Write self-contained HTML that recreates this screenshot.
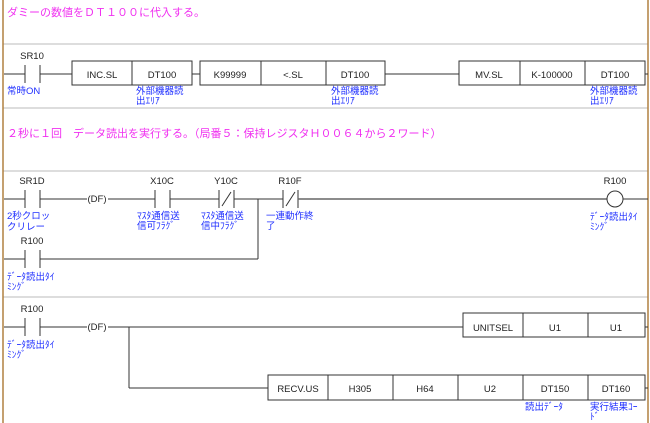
<!DOCTYPE html>
<html><head><meta charset="utf-8"><style>
html,body{margin:0;padding:0;background:#fff;width:650px;height:423px;overflow:hidden}
svg text{font-family:"Liberation Sans","Noto Sans CJK JP",sans-serif}
.m{fill:#f030f0;font-size:11px}
.b{fill:#2030ff;font-size:9.5px}
.k{fill:#222;font-size:9.5px}
</style></head><body>
<svg width="650" height="423" viewBox="0 0 650 423" xmlns="http://www.w3.org/2000/svg">
<rect x="0" y="0" width="650" height="423" fill="#fff"/>
<g stroke="#ddd" stroke-width="2">
<line x1="3" y1="44" x2="648" y2="44"/>
<line x1="3" y1="108" x2="648" y2="108"/>
<line x1="3" y1="171" x2="648" y2="171"/>
<line x1="3" y1="297" x2="648" y2="297"/>
</g>
<line x1="3" y1="0" x2="3" y2="423" stroke="#b08040" stroke-width="1.5"/>
<line x1="648" y1="0" x2="648" y2="423" stroke="#b08040" stroke-width="1.5"/>

<text class="m" x="7" y="16">ダミーの数値をＤＴ１００に代入する。</text>
<text class="m" x="7" y="137">２秒に１回　データ読出を実行する。（局番５：保持レジスタＨ００６４から２ワード）</text>

<g stroke="#333" stroke-width="1" fill="none">
<!-- Row1 -->
<line x1="4" y1="74" x2="25" y2="74"/><line x1="40" y1="74" x2="72" y2="74"/>
<line x1="25" y1="65" x2="25" y2="83"/><line x1="40" y1="65" x2="40" y2="83"/>
<rect x="72" y="61" width="120" height="24" fill="#fff"/><line x1="132" y1="61" x2="132" y2="85"/>
<line x1="192" y1="74" x2="200" y2="74"/>
<rect x="200" y="61" width="185" height="24" fill="#fff"/><line x1="261" y1="61" x2="261" y2="85"/><line x1="326" y1="61" x2="326" y2="85"/>
<line x1="385" y1="74" x2="459" y2="74"/>
<rect x="459" y="61" width="186" height="24" fill="#fff"/><line x1="520" y1="61" x2="520" y2="85"/><line x1="585" y1="61" x2="585" y2="85"/>
<line x1="645" y1="74" x2="648" y2="74"/>

<!-- Row3 -->
<line x1="4" y1="199" x2="25" y2="199"/>
<line x1="25" y1="190" x2="25" y2="208"/><line x1="40" y1="190" x2="40" y2="208"/>
<line x1="40" y1="199" x2="87" y2="199"/><line x1="108" y1="199" x2="155" y2="199"/>
<line x1="155" y1="190" x2="155" y2="208"/><line x1="170" y1="190" x2="170" y2="208"/>
<line x1="170" y1="199" x2="219" y2="199"/>
<line x1="219" y1="190" x2="219" y2="208"/><line x1="234" y1="190" x2="234" y2="208"/><line x1="222" y1="206" x2="231" y2="192"/>
<line x1="234" y1="199" x2="283" y2="199"/>
<line x1="283" y1="190" x2="283" y2="208"/><line x1="298" y1="190" x2="298" y2="208"/><line x1="286" y1="206" x2="295" y2="192"/>
<line x1="298" y1="199" x2="607" y2="199" stroke="#666" stroke-width="1.5"/>
<circle cx="615" cy="199" r="8" fill="#fff"/>
<line x1="623" y1="199" x2="648" y2="199"/>
<line x1="4" y1="259" x2="25" y2="259"/>
<line x1="25" y1="250" x2="25" y2="268"/><line x1="40" y1="250" x2="40" y2="268"/>
<line x1="40" y1="259" x2="258" y2="259"/><line x1="258" y1="199" x2="258" y2="259"/>

<!-- Row4 -->
<line x1="4" y1="327" x2="25" y2="327"/>
<line x1="25" y1="318" x2="25" y2="336"/><line x1="40" y1="318" x2="40" y2="336"/>
<line x1="40" y1="327" x2="87" y2="327"/><line x1="108" y1="327" x2="463" y2="327"/>
<rect x="463" y="313" width="182" height="24" fill="#fff"/><line x1="523" y1="313" x2="523" y2="337"/><line x1="588" y1="313" x2="588" y2="337"/>
<line x1="645" y1="327" x2="648" y2="327"/>
<line x1="129" y1="327" x2="129" y2="388"/><line x1="129" y1="388" x2="268" y2="388"/>
<rect x="268" y="375" width="377" height="25" fill="#fff"/>
<line x1="328" y1="375" x2="328" y2="400"/><line x1="393" y1="375" x2="393" y2="400"/><line x1="458" y1="375" x2="458" y2="400"/><line x1="523" y1="375" x2="523" y2="400"/><line x1="588" y1="375" x2="588" y2="400"/>
<line x1="645" y1="388" x2="648" y2="388"/>
</g>

<g class="k" text-anchor="middle">
<text x="32" y="59">SR10</text>
<text x="102" y="78">INC.SL</text><text x="162" y="78">DT100</text>
<text x="230" y="78">K99999</text><text x="293" y="78">&lt;.SL</text><text x="355" y="78">DT100</text>
<text x="489" y="78">MV.SL</text><text x="552" y="78">K-100000</text><text x="615" y="78">DT100</text>
<text x="32" y="184">SR1D</text><text x="97" y="202">(DF)</text>
<text x="162" y="184">X10C</text><text x="226" y="184">Y10C</text><text x="290" y="184">R10F</text>
<text x="615" y="184">R100</text>
<text x="32" y="244">R100</text>
<text x="32" y="312">R100</text><text x="97" y="330">(DF)</text>
<text x="493" y="331">UNITSEL</text><text x="555" y="331">U1</text><text x="616" y="331">U1</text>
<text x="298" y="392">RECV.US</text><text x="360" y="392">H305</text><text x="425" y="392">H64</text><text x="490" y="392">U2</text><text x="555" y="392">DT150</text><text x="616" y="392">DT160</text>
</g>

<g class="b">
<text x="7" y="94">常時ON</text>
<text x="136" y="94">外部機器読</text><text x="136" y="104">出ｴﾘｱ</text>
<text x="331" y="94">外部機器読</text><text x="331" y="104">出ｴﾘｱ</text>
<text x="590" y="94">外部機器読</text><text x="590" y="104">出ｴﾘｱ</text>
<text x="7" y="219">2秒クロッ</text><text x="7" y="230">クリレー</text>
<text x="137" y="219">ﾏｽﾀ通信送</text><text x="137" y="229">信可ﾌﾗｸﾞ</text>
<text x="201" y="219">ﾏｽﾀ通信送</text><text x="201" y="229">信中ﾌﾗｸﾞ</text>
<text x="266" y="219">一連動作終</text><text x="266" y="229">了</text>
<text x="590" y="220">ﾃﾞｰﾀ読出ﾀｲ</text><text x="590" y="230">ﾐﾝｸﾞ</text>
<text x="7" y="280">ﾃﾞｰﾀ読出ﾀｲ</text><text x="7" y="290">ﾐﾝｸﾞ</text>
<text x="7" y="348">ﾃﾞｰﾀ読出ﾀｲ</text><text x="7" y="358">ﾐﾝｸﾞ</text>
<text x="525" y="410">読出ﾃﾞｰﾀ</text>
<text x="590" y="410">実行結果ｺｰ</text><text x="590" y="420">ﾄﾞ</text>
</g>
</svg>
</body></html>
